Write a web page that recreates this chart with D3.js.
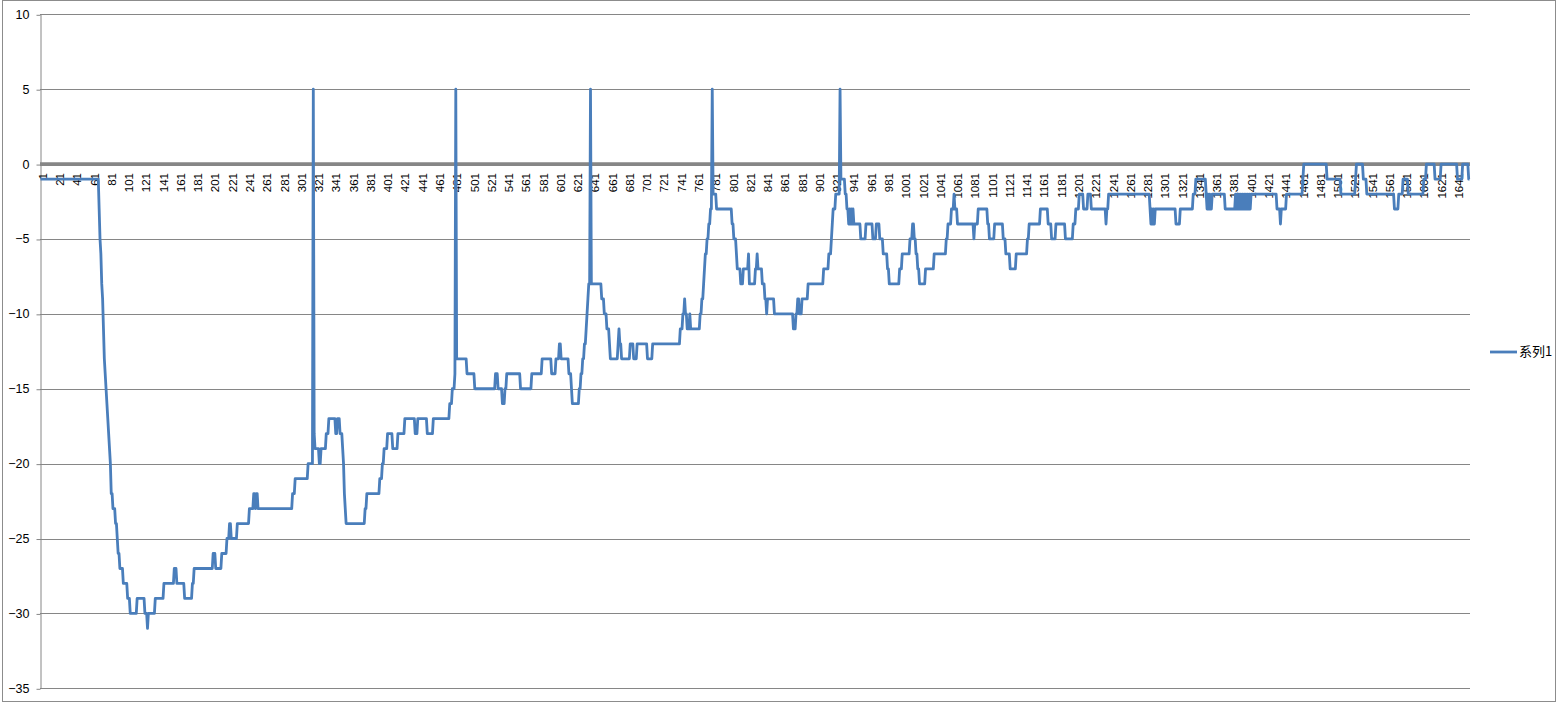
<!DOCTYPE html>
<html><head><meta charset="utf-8">
<script src="https://cdn.jsdelivr.net/npm/d3@7"></script>
<style>body{margin:0;background:#fff;} svg text{font-family:"Liberation Sans",Arial,sans-serif;}</style>
</head><body><svg id="c" width="1557" height="704"></svg>
<script>
const N = 1656;
const categories = d3.range(1, N + 1);
// run-length encoded series: value runValue[k] starts at category runStart[k]
const runStart = [1,69,70,71,72,73,74,75,76,77,78,79,80,81,82,83,85,88,90,91,93,97,102,105,113,122,125,126,134,144,156,159,168,177,179,201,204,211,217,220,222,229,243,248,250,251,253,293,296,311,317,318,319,324,326,332,335,343,345,348,351,352,353,354,355,377,379,394,397,399,403,409,415,423,435,438,449,456,475,478,481,482,483,495,504,528,531,536,539,541,557,570,582,593,598,602,604,613,616,617,625,627,629,631,633,634,635,636,638,639,651,654,657,660,661,670,671,672,674,684,688,692,704,710,742,745,747,748,750,753,754,765,767,769,770,771,773,775,777,779,780,784,802,804,807,808,812,815,821,822,829,831,832,837,840,842,843,851,873,876,878,880,883,890,908,914,917,918,919,922,927,928,933,935,937,938,939,940,941,942,943,951,957,965,969,973,977,982,984,996,999,1008,1011,1013,1015,1017,1019,1026,1036,1050,1052,1056,1059,1060,1063,1082,1083,1087,1098,1100,1106,1116,1119,1124,1131,1144,1146,1159,1168,1172,1177,1188,1197,1200,1204,1209,1214,1218,1235,1236,1238,1286,1287,1288,1289,1290,1291,1292,1316,1321,1336,1339,1351,1352,1353,1354,1355,1356,1358,1373,1385,1386,1387,1388,1389,1390,1391,1392,1393,1394,1395,1396,1397,1398,1399,1400,1401,1402,1403,1433,1437,1438,1444,1463,1464,1491,1507,1524,1525,1533,1537,1569,1574,1579,1585,1603,1606,1616,1623,1642,1648,1655];
const runValue = [-1,-3,-5,-6,-8,-9,-11,-13,-14,-15,-16,-17,-18,-19,-20,-22,-23,-24,-25,-26,-27,-28,-29,-30,-29,-30,-31,-30,-29,-28,-27,-28,-29,-28,-27,-26,-27,-26,-25,-24,-25,-24,-23,-22,-23,-22,-23,-22,-21,-20,5,-18,-19,-20,-19,-18,-17,-18,-17,-18,-19,-20,-22,-23,-24,-23,-22,-21,-20,-19,-18,-19,-18,-17,-18,-17,-18,-17,-16,-15,-14,5,-13,-14,-15,-14,-15,-16,-15,-14,-15,-14,-13,-14,-13,-12,-13,-14,-15,-16,-15,-14,-13,-12,-11,-10,-9,-8,5,-8,-9,-10,-11,-12,-13,-12,-11,-12,-13,-12,-13,-12,-13,-12,-11,-10,-9,-10,-11,-10,-11,-10,-9,-8,-7,-6,-5,-4,-3,5,-2,-3,-4,-5,-6,-7,-8,-7,-6,-8,-7,-6,-7,-8,-9,-10,-9,-10,-11,-10,-9,-10,-9,-8,-7,-6,-5,-4,-3,-2,5,-1,-2,-3,-4,-3,-4,-3,-4,-3,-4,-5,-4,-5,-4,-5,-6,-7,-8,-7,-6,-5,-4,-5,-6,-7,-8,-7,-6,-5,-4,-3,-2,-3,-4,-5,-4,-3,-4,-5,-4,-5,-6,-7,-6,-5,-4,-3,-4,-5,-4,-5,-4,-3,-2,-3,-2,-3,-4,-3,-2,-3,-4,-3,-4,-3,-4,-3,-4,-3,-2,-1,-2,-3,-2,-3,-2,-3,-2,-3,-2,-3,-2,-3,-2,-3,-2,-3,-2,-3,-2,-3,-2,-3,-2,-3,-2,-3,-2,-3,-4,-3,-2,-1,0,-1,-2,-1,0,-1,-2,-3,-2,-1,-2,-1,0,-1,0,-1,0,-1];
const yTickValues = [10,5,0,-5,-10,-15,-20,-25,-30,-35];
const xTickLabels = [1,21,41,61,81,101,121,141,161,181,201,221,241,261,281,301,321,341,361,381,401,421,441,461,481,501,521,541,561,581,601,621,641,661,681,701,721,741,761,781,801,821,841,861,881,901,921,941,961,981,1001,1021,1041,1061,1081,1101,1121,1141,1161,1181,1201,1221,1241,1261,1281,1301,1321,1341,1361,1381,1401,1421,1441,1461,1481,1501,1521,1541,1561,1581,1601,1621,1641];
const seriesName = "系列1";

// decode the run-length table
const values = [];
let r = 0;
for (const c of categories) {
  while (r + 1 < runStart.length && runStart[r + 1] <= c) r++;
  values.push(runValue[r]);
}

const svg = d3.select("#c");
const L = 40, R = 1470, T = 14.3, B = 688.3;
const x = d3.scalePoint().domain(categories).range([L, R]).padding(0.5);
const y = d3.scaleLinear().domain([-35, 10]).range([B, T]);

// outer frame
svg.append("rect").attr("x", 2.5).attr("y", 0.5).attr("width", 1553).attr("height", 701)
  .attr("fill", "none").attr("stroke", "#8c8c8c");

// gridlines
svg.append("g").selectAll("line").data(yTickValues.filter(v => v !== 0)).join("line")
  .attr("x1", L).attr("x2", R)
  .attr("y1", d => Math.round(y(d)) + 0.5).attr("y2", d => Math.round(y(d)) + 0.5)
  .attr("stroke", "#868686").attr("stroke-width", 1);

// y axis
const yAxis = svg.append("g").attr("transform", `translate(${L + 0.5},0)`)
  .call(d3.axisLeft(y).tickValues(yTickValues).tickSize(4).tickPadding(7).tickSizeOuter(0));
yAxis.select(".domain").attr("stroke", "#868686");
yAxis.selectAll(".tick line").attr("stroke", "#868686").attr("transform", "translate(0,0.5)");
yAxis.selectAll(".tick text").attr("font-size", 12.5).attr("fill", "#000")
  .style("font-family", "'Liberation Sans',Arial,sans-serif");

// zero (category) axis line
svg.append("line").attr("x1", L).attr("x2", R).attr("y1", y(0)).attr("y2", y(0))
  .attr("stroke", "#868686").attr("stroke-width", 3.8);

// x tick labels
svg.append("g").selectAll("text").data(xTickLabels).join("text")
  .attr("transform", d => `translate(${x(d)},173) rotate(-90)`)
  .attr("text-anchor", "end").attr("dy", "0.55em")
  .attr("font-size", 11.5).attr("fill", "#000")
  .text(d => d);

// series line
const line = d3.line().x((d, i) => x(categories[i])).y(d => y(d));
svg.append("path").datum(values).attr("d", line)
  .attr("fill", "none").attr("stroke", "#4A7EBB").attr("stroke-width", 2.8)
  .attr("stroke-linejoin", "round");

// legend
svg.append("line").attr("x1", 1490).attr("x2", 1517).attr("y1", 352).attr("y2", 352)
  .attr("stroke", "#4A7EBB").attr("stroke-width", 2.8);
svg.append("text").attr("x", 1519).attr("y", 351).attr("dy", "0.36em")
  .attr("font-size", 13).attr("fill", "#000")
  .style("font-family", "'Noto Sans CJK SC','Liberation Sans',sans-serif")
  .text(seriesName);
</script></body></html>
